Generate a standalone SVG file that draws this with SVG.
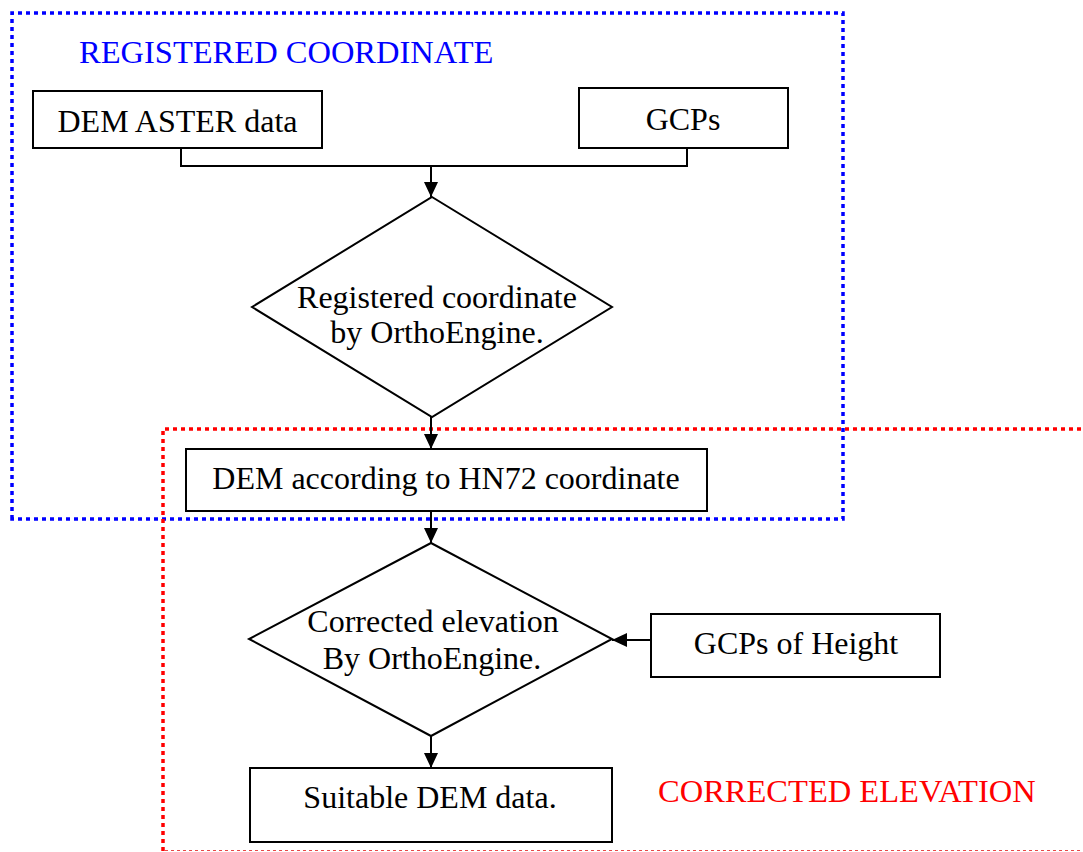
<svg xmlns="http://www.w3.org/2000/svg" width="1083" height="852" viewBox="0 0 1083 852">
<style>
.box{fill:#fff;stroke:#000;stroke-width:2}
.t{font-family:"Liberation Serif","Times New Roman",serif;font-size:32px;fill:#000;text-anchor:middle}
.lbl{font-family:"Liberation Serif","Times New Roman",serif;font-size:32.5px}
.con{fill:none;stroke:#000;stroke-width:2}
.blue{fill:none;stroke:#0000ff;stroke-width:3.5;stroke-dasharray:4 4}
.red{fill:none;stroke:#ff0000;stroke-width:3.5;stroke-dasharray:4 4}
</style>
<defs>
<marker id="ah" markerUnits="userSpaceOnUse" markerWidth="15" markerHeight="14" refX="15" refY="7" orient="auto">
<path d="M0,0 L15,7 L0,14 Z" fill="#000"/>
</marker>
</defs>
<rect width="1083" height="852" fill="#fff"/>
<g id="group-registered">
<path class="blue" d="M12,519 L12,13 L843,13 L843,519 Z"/>
<text class="lbl" x="79" y="63" fill="#0000ff">REGISTERED COORDINATE</text>
</g>
<g id="group-corrected">
<path class="red" d="M163,851 L163,429 L1083,429"/>
<line x1="165" y1="850.5" x2="1083" y2="850.5" stroke="#e84848" stroke-width="1.2" stroke-dasharray="3 3"/>
<text class="lbl" x="658" y="802" fill="#ff0000">CORRECTED ELEVATION</text>
</g>
<g id="connectors">
<path class="con" d="M181,148 L181,166 L687,166 L687,148"/>
<line class="con" x1="431" y1="166" x2="431" y2="197" marker-end="url(#ah)"/>
<line class="con" x1="431" y1="417" x2="431" y2="449" marker-end="url(#ah)"/>
<line class="con" x1="431" y1="511" x2="431" y2="543" marker-end="url(#ah)"/>
<line class="con" x1="651" y1="640" x2="612" y2="640" marker-end="url(#ah)"/>
<line class="con" x1="431" y1="736" x2="431" y2="768" marker-end="url(#ah)"/>
</g>
<g id="node-dem-aster">
<rect class="box" x="33" y="91" width="289" height="57"/>
<text class="t" x="177.5" y="132">DEM ASTER data</text>
</g>
<g id="node-gcps">
<rect class="box" x="579" y="88" width="209" height="60"/>
<text class="t" x="683" y="130">GCPs</text>
</g>
<g id="node-registered">
<polygon class="box" points="432,197 612,307 432,417 252,307"/>
<text class="t" x="437" y="308">Registered coordinate</text>
<text class="t" x="437" y="343">by OrthoEngine.</text>
</g>
<g id="node-hn72">
<rect class="box" x="186" y="449" width="521" height="62"/>
<text class="t" x="446" y="489">DEM according to HN72 coordinate</text>
</g>
<g id="node-corrected">
<polygon class="box" points="431,543 612,639 431,736 249,639"/>
<text class="t" x="433" y="632">Corrected elevation</text>
<text class="t" x="432" y="669">By OrthoEngine.</text>
</g>
<g id="node-gcps-height">
<rect class="box" x="651" y="614" width="289" height="63"/>
<text class="t" x="796" y="654">GCPs of Height</text>
</g>
<g id="node-suitable">
<rect class="box" x="250" y="768" width="362" height="74"/>
<text class="t" x="430" y="808">Suitable DEM data.</text>
</g>
</svg>
